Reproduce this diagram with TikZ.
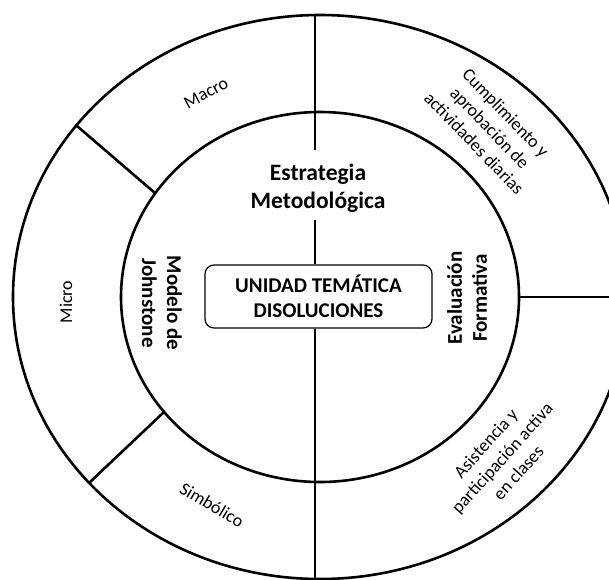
\documentclass[tikz,border=0pt]{standalone}
\usepackage{fontspec}
\setmainfont{Carlito}
\begin{document}
\begin{tikzpicture}[x=1pt,y=-1pt,
  ring/.style={line width=2.6pt},
  boldlabel/.style={font=\bfseries\fontsize{21}{25}\selectfont, align=center, inner sep=0pt},
  thinlabel/.style={font=\fontsize{18}{22}\selectfont, align=center, inner sep=0pt},
]
\useasboundingbox (0,0) rectangle (609,579);
\clip (0,0) rectangle (609,579);
\coordinate (c) at (320,297);
% rings
\draw[ring] (c) ellipse [x radius=307pt, y radius=282pt];
\draw[ring] (c) ellipse [x radius=199pt, y radius=185pt];
% dividers in outer ring
\coordinate (ulo) at (77,126);  \coordinate (uli) at (155,193);
\coordinate (llo) at (89,483);  \coordinate (lli) at (164,412);
\coordinate (ri)  at (520,297); \coordinate (ro)  at (609,297);
\draw[ring] (ulo) -- (uli);
\draw[ring] (llo) -- (lli);
\draw[ring] (ri) -- (ro);
% centre texts
\node[boldlabel, font=\bfseries\fontsize{23.5}{28}\selectfont] (estr) at (318,188) {Estrategia\\Metodológica};
\node[boldlabel, draw, rounded corners=9pt, line width=1.2pt, minimum width=227pt, minimum height=63pt] (ubox) at (318.5,296.5) {UNIDAD TEMÁTICA\\DISOLUCIONES};
\node[boldlabel, rotate=-90] (mod) at (162,303) {Modelo de\\Johnstone};
\node[boldlabel, rotate=90] (eva) at (467,298) {Evaluación\\Formativa};
% vertical axis
\coordinate (vtop) at (315,15);
\coordinate (v1) at (315,150);
\coordinate (v2) at (315,220);
\coordinate (vbot) at (315,579);
\draw[ring] (vtop) -- (v1);
\draw[ring] (v2) -- (v2 |- ubox.north);
\draw[ring] (v2 |- ubox.south) -- (vbot);
% outer labels
\node[thinlabel, rotate=28] (macro) at (206,93) {Macro};
\node[thinlabel, rotate=90] (micro) at (66,302) {Micro};
\node[thinlabel, rotate=-31] (simb) at (212,505) {Simbólico};
\node[thinlabel, rotate=-46] (cump) at (490,128) {Cumplimiento y\\aprobación de\\actividades diarias};
\node[thinlabel, rotate=48] (asis) at (502,458) {Asistencia y\\participación activa\\en clases};
\end{tikzpicture}
\end{document}
